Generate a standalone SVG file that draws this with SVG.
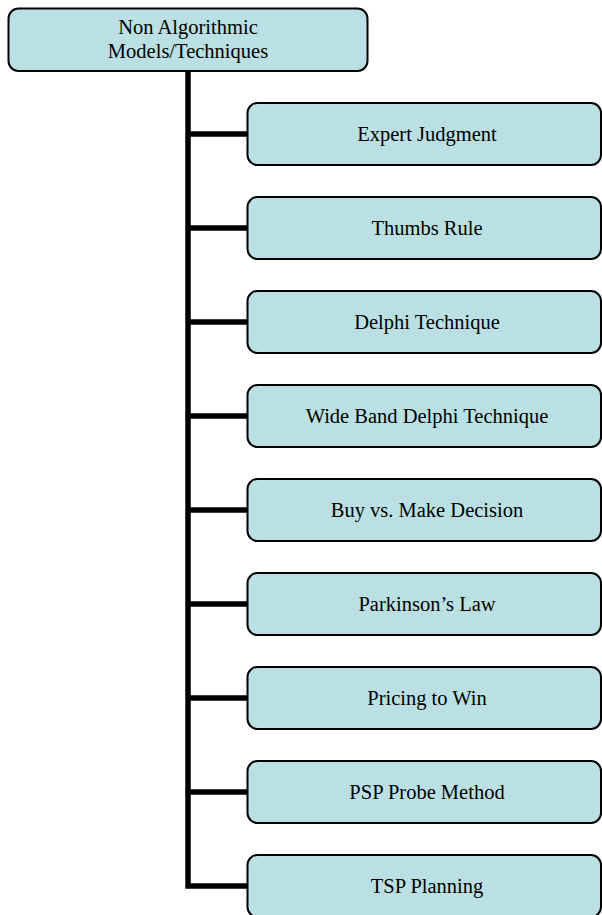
<svg xmlns="http://www.w3.org/2000/svg" width="602" height="915" viewBox="0 0 602 915">
<style>
.box{fill:#BAE0E3;stroke:#000;stroke-width:2}
.t{font-family:"Liberation Serif","Times New Roman",serif;font-size:20.5px;fill:#000;text-anchor:middle;dominant-baseline:central}
.c{fill:none;stroke:#000;stroke-width:5.5}
</style>
<rect width="602" height="915" fill="#fff"/>
<g id="connectors">
<path class="c" d="M188 71 V886 H247"/>
<path class="c" d="M188 134 H247 M188 228 H247 M188 322 H247 M188 416 H247 M188 510 H247 M188 604 H247 M188 698 H247 M188 792 H247"/>
</g>
<g id="root"><rect class="box" x="8.5" y="8.5" width="359" height="62.5" rx="10"/><text class="t" x="188" y="27">Non Algorithmic</text><text class="t" x="188" y="51">Models/Techniques</text></g>
<g id="n1"><rect class="box" x="247.5" y="103" width="353.5" height="62" rx="10"/><text class="t" x="427" y="134">Expert Judgment</text></g>
<g id="n2"><rect class="box" x="247.5" y="197" width="353.5" height="62" rx="10"/><text class="t" x="427" y="228">Thumbs Rule</text></g>
<g id="n3"><rect class="box" x="247.5" y="291" width="353.5" height="62" rx="10"/><text class="t" x="427" y="322">Delphi Technique</text></g>
<g id="n4"><rect class="box" x="247.5" y="385" width="353.5" height="62" rx="10"/><text class="t" x="427" y="416">Wide Band Delphi Technique</text></g>
<g id="n5"><rect class="box" x="247.5" y="479" width="353.5" height="62" rx="10"/><text class="t" x="427" y="510">Buy vs. Make Decision</text></g>
<g id="n6"><rect class="box" x="247.5" y="573" width="353.5" height="62" rx="10"/><text class="t" x="427" y="604">Parkinson’s Law</text></g>
<g id="n7"><rect class="box" x="247.5" y="667" width="353.5" height="62" rx="10"/><text class="t" x="427" y="698">Pricing to Win</text></g>
<g id="n8"><rect class="box" x="247.5" y="761" width="353.5" height="62" rx="10"/><text class="t" x="427" y="792">PSP Probe Method</text></g>
<g id="n9"><rect class="box" x="247.5" y="855" width="353.5" height="62" rx="10"/><text class="t" x="427" y="886">TSP Planning</text></g>
</svg>
